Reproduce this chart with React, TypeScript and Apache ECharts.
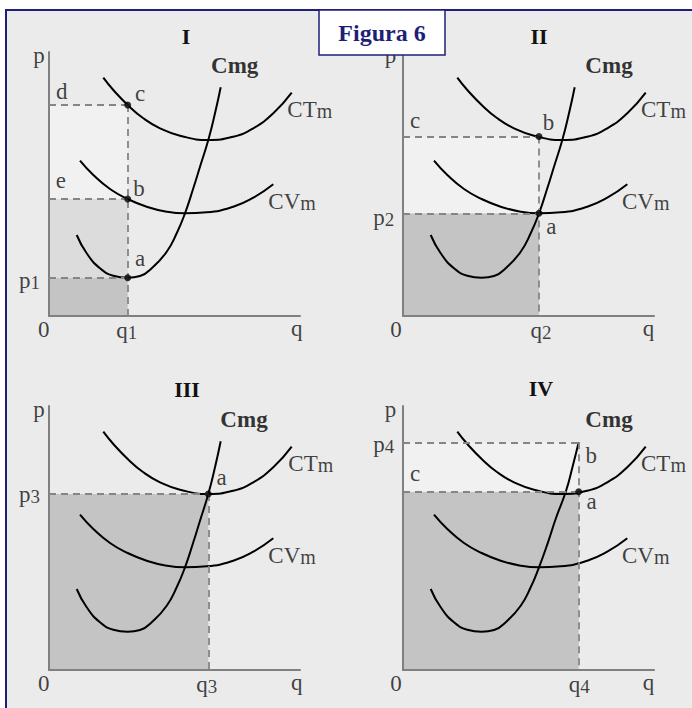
import React, { useEffect, useRef } from "react";
import * as echarts from "echarts";

// Curves (q, cost); the same shapes appear in all four panels
const cmgCurve = [[27.7, 81], [37.7, 62.7], [51, 47.7], [64.3, 40.3], [78.7, 38.3], [91, 40], [104.3, 49.3], [117.7, 64.3], [127.7, 82.7], [136, 102.7], [144.3, 127.7], [151, 149.3], [159.3, 176], [166, 202.7], [171.7, 228.7]];
const cmgCurveIV = [[27.7, 81], [37.7, 62.7], [51, 47.7], [64.3, 40.3], [78.7, 38.3], [91, 40], [104.3, 49.3], [117.7, 64.3], [127.7, 82.7], [136, 102.7], [145, 127.7], [153, 152], [163, 179], [169.5, 203], [175.7, 227.7]];
const ctmCurve = [[54.3, 238.3], [64.3, 226], [78.7, 211], [94.3, 197.7], [111, 187.7], [131, 180.3], [159.3, 176], [184.3, 179.3], [204.3, 187.7], [224.3, 202.7], [242.7, 223.3]];
const cvmCurve = [[31, 155.3], [44.3, 141], [61, 127], [78.7, 117], [97.7, 109.3], [117.7, 104.3], [136, 102.7], [157.7, 103.7], [184.3, 109.3], [204.3, 118.3], [224.3, 131.7]];

// Key quantities / price levels of each panel
const q1 = 78.7, p1 = 38.3, e1 = 117, d1 = 211;
const q2 = 136, p2 = 102.7, c2 = 179.5;
const q3 = 159.3, p3 = 176;
const q4 = 175.7, p4 = 227.7, c4 = 178.3;

const X_MAX = 251;
const Y_MAX = 264;
const panelTitles = ["I", "II", "III", "IV"];
const figureTitle = "Figura 6";

const SERIF = '"Liberation Serif", "Times New Roman", serif';
const INK = "#111111";
const NAVY = "#1f1f78";
const BG = "#ebebeb";
const DARK = "#c4c4c4";
const MID = "#dcdcdc";
const LIGHT = "#f1f1f1";

const GRID_POS = [[49, 52], [403, 52], [49, 406], [403, 406]];
const TITLE_POS = [[186, 36], [539, 36], [187, 389], [541, 388]];

const rich: any = {
  t: { fontFamily: SERIF, fontSize: 23, lineHeight: 23, color: INK },
  tp: { fontFamily: SERIF, fontSize: 23, lineHeight: 23, color: INK, verticalAlign: "top", padding: [0, 0, 4, 0] },
  s: { fontFamily: SERIF, fontSize: 19, lineHeight: 19, color: INK, verticalAlign: "bottom" },
  tc: { fontFamily: SERIF, fontSize: 23, lineHeight: 23, color: INK, verticalAlign: "top", padding: [0, 0, 9, 0] },
  sm: { fontFamily: SERIF, fontSize: 20, lineHeight: 20, color: INK, verticalAlign: "bottom" },
  b: { fontFamily: SERIF, fontSize: 23, lineHeight: 23, fontWeight: "bold", color: "#000" },
};

type Lbl = [number[], string, number[], string?];

function last(a: number[][]) {
  return a[a.length - 1];
}

const panels: any[] = [
  {
    cmg: cmgCurve,
    areas: [[[0, 0], [q1, p1], DARK], [[0, p1], [q1, e1], MID], [[0, e1], [q1, d1], LIGHT]],
    dashes: [[[0, d1], [q1, d1]], [[0, e1], [q1, e1]], [[0, p1], [q1, p1]], [[q1, d1], [q1, 0]]],
    points: [[q1, p1], [q1, e1], [q1, d1]],
    labels: [
      [[0, Y_MAX], "{t|p}", [-10, 3]],
      [[0, 0], "{t|0}", [-5.2, 13]],
      [[X_MAX, 0], "{t|q}", [-3.3, 12.5]],
      [[0, d1], "{t|d}", [12.7, -13.3]],
      [[q1, d1], "{t|c}", [12.3, -11.7]],
      [[0, e1], "{t|e}", [11.8, -18.2]],
      [[q1, e1], "{t|b}", [11.3, -10.2]],
      [[q1, p1], "{t|a}", [12.3, -19.4]],
      [[0, p1], "{tp|p}{s|1}", [-9, 2.3], "right"],
      [[q1, 0], "{tp|q}{s|1}", [-1, 14.3]],
      [last(cmgCurve), "{b|Cmg}", [14, -21.5]],
      [last(ctmCurve), "{tc|CT}{sm|m}", [-4.4, 16.8], "left"],
      [last(cvmCurve), "{tc|CV}{sm|m}", [-5, 17.2], "left"],
    ] as Lbl[],
  },
  {
    cmg: cmgCurve,
    areas: [[[0, 0], [q2, p2], DARK], [[0, p2], [q2, c2], LIGHT]],
    dashes: [[[0, c2], [q2, c2]], [[0, p2], [q2, p2]], [[q2, c2], [q2, 0]]],
    points: [[q2, p2], [q2, c2]],
    labels: [
      [[0, Y_MAX], "{t|p}", [-12.5, 3]],
      [[0, 0], "{t|0}", [-7, 13]],
      [[X_MAX, 0], "{t|q}", [-5.5, 12.5]],
      [[0, c2], "{t|c}", [12, -15.7]],
      [[q2, c2], "{t|b}", [9.5, -14]],
      [[q2, p2], "{t|a}", [12.3, 13.4]],
      [[0, p2], "{tp|p}{s|2}", [-8.7, 4.5], "right"],
      [[q2, 0], "{tp|q}{s|2}", [2, 14.3]],
      [last(cmgCurve), "{b|Cmg}", [34.3, -21.5]],
      [last(ctmCurve), "{tc|CT}{sm|m}", [-4.7, 16.8], "left"],
      [last(cvmCurve), "{tc|CV}{sm|m}", [-5.3, 17.2], "left"],
    ] as Lbl[],
  },
  {
    cmg: cmgCurve,
    areas: [[[0, 0], [q3, p3], DARK]],
    dashes: [[[0, p3], [q3, p3]], [[q3, p3], [q3, 0]]],
    points: [[q3, p3]],
    labels: [
      [[0, Y_MAX], "{t|p}", [-10, 3]],
      [[0, 0], "{t|0}", [-5.2, 13]],
      [[X_MAX, 0], "{t|q}", [-3.3, 12.5]],
      [[q3, p3], "{t|a}", [13.4, -16.7]],
      [[0, p3], "{tp|p}{s|3}", [-9, 0.3], "right"],
      [[q3, 0], "{tp|q}{s|3}", [-1.6, 14.3]],
      [last(cmgCurve), "{b|Cmg}", [23.3, -21.5]],
      [last(ctmCurve), "{tc|CT}{sm|m}", [-3.4, 16.8], "left"],
      [last(cvmCurve), "{tc|CV}{sm|m}", [-5, 17.2], "left"],
    ] as Lbl[],
  },
  {
    cmg: cmgCurveIV,
    areas: [[[0, 0], [q4, c4], DARK], [[0, c4], [q4, p4], LIGHT]],
    dashes: [[[0, p4], [q4, p4]], [[0, c4], [q4, c4]], [[q4, p4], [q4, 0]]],
    points: [[q4, c4]],
    labels: [
      [[0, Y_MAX], "{t|p}", [-12.5, 3]],
      [[0, 0], "{t|0}", [-7, 13]],
      [[X_MAX, 0], "{t|q}", [-5.5, 12.5]],
      [[0, p4], "{tp|p}{s|4}", [-8.7, 2], "right"],
      [[0, c4], "{t|c}", [12, -17.9]],
      [[q4, p4], "{t|b}", [12.6, 13.4]],
      [[q4, c4], "{t|a}", [12.8, 9.8]],
      [[q4, 0], "{tp|q}{s|4}", [0.6, 14.3]],
      [last(cmgCurveIV), "{b|Cmg}", [30.3, -22.5]],
      [last(ctmCurve), "{tc|CT}{sm|m}", [-4.7, 16.8], "left"],
      [last(cvmCurve), "{tc|CV}{sm|m}", [-5.3, 17.2], "left"],
    ] as Lbl[],
  },
];

function buildOption() {
  const grid: any[] = [];
  const xAxis: any[] = [];
  const yAxis: any[] = [];
  const series: any[] = [];
  const axisCommon = {
    type: "value",
    axisLine: { show: true, onZero: false, lineStyle: { color: "#808080", width: 2 } },
    axisTick: { show: false },
    axisLabel: { show: false },
    splitLine: { show: false },
    z: 3,
  };

  panels.forEach((p, i) => {
    grid.push({ left: GRID_POS[i][0], top: GRID_POS[i][1], width: X_MAX, height: Y_MAX, containLabel: false });
    xAxis.push({ ...axisCommon, gridIndex: i, min: 0, max: X_MAX });
    yAxis.push({ ...axisCommon, gridIndex: i, min: 0, max: Y_MAX });
    const ax = { xAxisIndex: i, yAxisIndex: i };

    series.push({
      type: "line", ...ax, z: 1, silent: true, data: [[0, 0]], symbol: "none",
      lineStyle: { width: 0 },
      markArea: {
        silent: true,
        data: p.areas.map((a: any) => [
          { coord: a[0], itemStyle: { color: a[2], borderWidth: 0 } },
          { coord: a[1] },
        ]),
      },
    });
    series.push({
      type: "line", ...ax, z: 2, silent: true, data: [[0, 0]], symbol: "none",
      lineStyle: { width: 0 },
      markLine: {
        silent: true,
        symbol: ["none", "none"],
        label: { show: false },
        lineStyle: { color: "#858585", width: 1.8, type: [7, 5] },
        emphasis: { disabled: true },
        data: p.dashes.map((d: any) => [{ coord: d[0] }, { coord: d[1] }]),
      },
    });
    [p.cmg, ctmCurve, cvmCurve].forEach((c: number[][]) => {
      series.push({
        type: "line", ...ax, z: 4, silent: true, data: c, smooth: 0.5, symbol: "none",
        lineStyle: { color: "#000", width: 2 },
      });
    });
    series.push({
      type: "scatter", ...ax, z: 5, silent: true, data: p.points, symbolSize: 7,
      itemStyle: { color: "#000" },
    });
    series.push({
      type: "scatter", ...ax, z: 6, silent: true, symbolSize: 0,
      data: p.labels.map((l: Lbl) => ({
        value: l[0],
        label: { show: true, position: "inside", formatter: l[1], offset: l[2], align: l[3] || "center", rich },
      })),
      label: { show: true, position: "inside", rich },
    });
  });

  const graphic: any[] = [
    {
      type: "rect", z: -5, silent: true,
      shape: { x: 6, y: 10, width: 700, height: 720 },
      style: { fill: BG, stroke: NAVY, lineWidth: 2 },
    },
    ...panelTitles.map((t, i) => ({
      type: "text", z: 10, silent: true, x: TITLE_POS[i][0], y: TITLE_POS[i][1],
      style: { text: t, font: `bold 22px ${SERIF}`, fill: "#111", textAlign: "center", textVerticalAlign: "middle" },
    })),
    {
      type: "rect", z: 50, silent: true,
      shape: { x: 319, y: 10, width: 126, height: 45 },
      style: { fill: "#ffffff", stroke: NAVY, lineWidth: 1.5 },
    },
    {
      type: "text", z: 51, silent: true, x: 382, y: 33,
      style: { text: figureTitle, font: `bold 24px ${SERIF}`, fill: NAVY, textAlign: "center", textVerticalAlign: "middle" },
    },
  ];

  return { animation: false, backgroundColor: "#ffffff", grid, xAxis, yAxis, series, graphic };
}

export default function App() {
  const ref = useRef<HTMLDivElement>(null);
  useEffect(() => {
    document.body.style.margin = "0";
    if (!ref.current) return;
    const chart = echarts.init(ref.current, undefined, { renderer: "svg" });
    chart.setOption(buildOption() as any);
    return () => chart.dispose();
  }, []);
  return <div ref={ref} style={{ width: 692, height: 708 }} />;
}
